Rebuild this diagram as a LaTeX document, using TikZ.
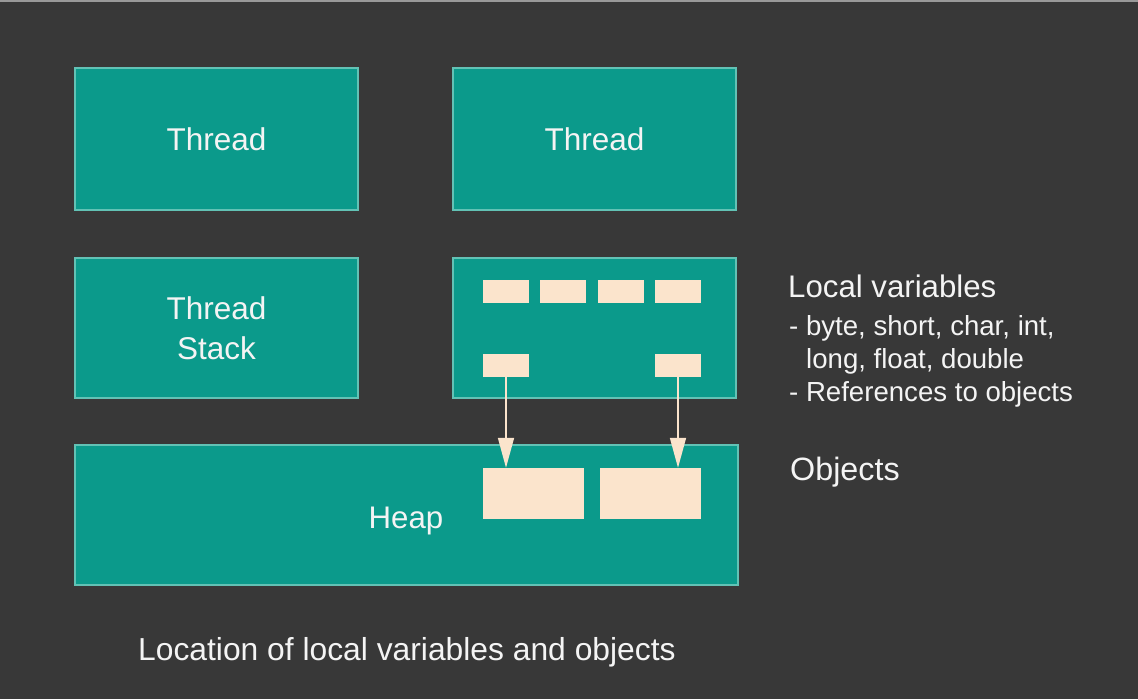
\documentclass[tikz,border=0pt]{standalone}
\usepackage{fontspec}
\setmainfont{Liberation Sans}
\usetikzlibrary{arrows.meta}
\definecolor{bgc}{HTML}{383838}
\definecolor{teal}{HTML}{0B9A8B}
\definecolor{tealb}{HTML}{62C2B5}
\definecolor{cream}{HTML}{FBE4CC}
\definecolor{txt}{HTML}{F4F4F4}
\begin{document}
\begin{tikzpicture}[x=1pt,y=-1pt,
  box/.style={draw=tealb,line width=1.5pt,fill=teal,inner sep=0pt,text=txt,align=center,font=\fontsize{31.5}{40}\selectfont},
  slot/.style={fill=cream,draw=none,inner sep=0pt,minimum width=46pt,minimum height=23pt},
  obj/.style={fill=cream,draw=none,inner sep=0pt,minimum width=101pt,minimum height=51pt},
  lbl/.style={text=txt,inner sep=0pt,font=\fontsize{31.2}{40}\selectfont},
  sub/.style={text=txt,inner sep=0pt,font=\fontsize{27.6}{33}\selectfont},
  ref/.style={draw=cream,line width=1.5pt,-{Triangle[length=30pt,width=16pt]}}]
\fill[bgc] (0,0) rectangle (1138,699);
\useasboundingbox (0,0) rectangle (1138,699);
\draw[color=gray!80,line width=2pt] (0,1) -- (1138,1);
\node[box,minimum width=283pt,minimum height=142pt] (t1) at (216.5,139) {Thread};
\node[box,minimum width=283pt,minimum height=142pt] (t2) at (594.5,139) {Thread};
\node[box,minimum width=283pt,minimum height=140pt] (stack) at (216.5,328) {Thread\\Stack};
\node[box,minimum width=283pt,minimum height=140pt] (local) at (594.5,328) {};
\node[box,minimum width=663pt,minimum height=140pt] (heap) at (406.5,515) {};
\node[lbl,anchor=base] (heaplbl) at (406,528) {Heap};
\node[slot] (s1) at (506,291.5) {};
\node[slot] (s2) at (563,291.5) {};
\node[slot] (s3) at (621,291.5) {};
\node[slot] (s4) at (678,291.5) {};
\node[slot] (r1) at (506,365.5) {};
\node[slot] (r2) at (678,365.5) {};
\node[obj] (o1) at (533.5,493.5) {};
\node[obj] (o2) at (650.5,493.5) {};
\draw[ref] (r1.south) -- (r1.south |- o1.north);
\draw[ref] (r2.south) -- (r2.south |- o2.north);
\node[lbl,anchor=base west] (lv) at (788,297) {Local variables};
\node[sub,anchor=base west] (lv1) at (789,335) {- byte, short, char, int,};
\node[sub,anchor=base west] (lv2) at (806,368) {long, float, double};
\node[sub,anchor=base west] (lv3) at (789,401) {- References to objects};
\node[lbl,anchor=base west,font=\fontsize{32.3}{40}\selectfont] (objs) at (790,480) {Objects};
\node[lbl,anchor=base west,font=\fontsize{31.8}{40}\selectfont] (cap) at (138,660) {Location of local variables and objects};
\end{tikzpicture}
\end{document}
